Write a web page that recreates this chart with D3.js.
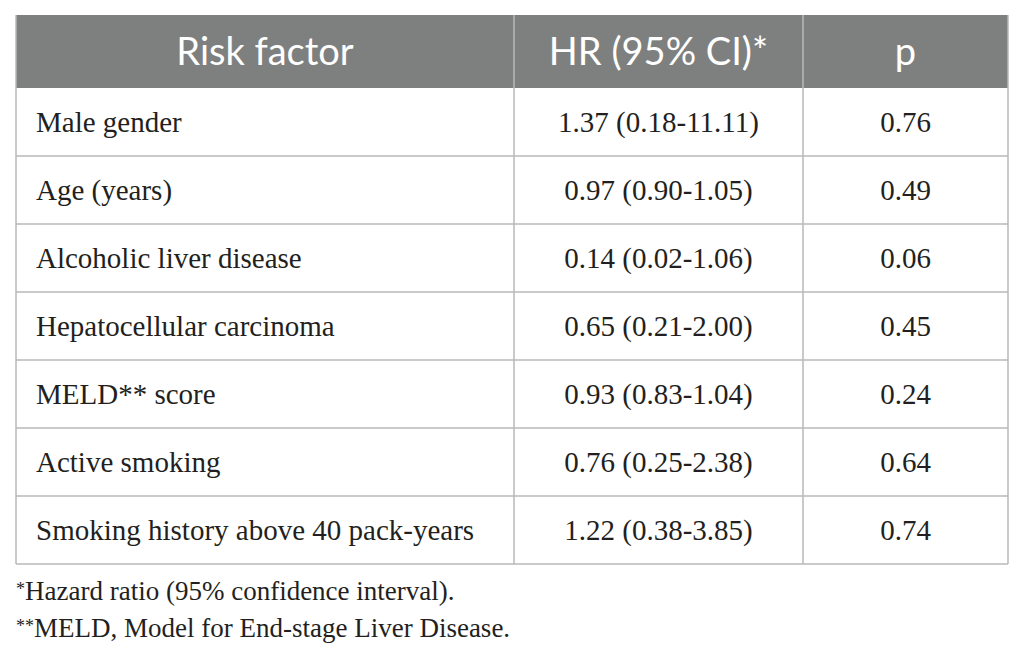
<!DOCTYPE html>
<html>
<head>
<meta charset="utf-8">
<script src="https://cdn.jsdelivr.net/npm/d3@7"></script>
<style>
  html, body { margin: 0; padding: 0; background: #fff; }
</style>
</head>
<body>
<div id="wrapper"></div>
<script>
const headers = ["Risk factor", "HR (95% CI)*", "p"]
const riskFactors = [
  "Male gender",
  "Age (years)",
  "Alcoholic liver disease",
  "Hepatocellular carcinoma",
  "MELD** score",
  "Active smoking",
  "Smoking history above 40 pack-years",
]
const hrCi = [
  "1.37 (0.18-11.11)",
  "0.97 (0.90-1.05)",
  "0.14 (0.02-1.06)",
  "0.65 (0.21-2.00)",
  "0.93 (0.83-1.04)",
  "0.76 (0.25-2.38)",
  "1.22 (0.38-3.85)",
]
const pValues = ["0.76", "0.49", "0.06", "0.45", "0.24", "0.64", "0.74"]
const footnotes = [
  ["*", "Hazard ratio (95% confidence interval)."],
  ["**", "MELD, Model for End-stage Liver Disease."],
]

function drawTable() {
  const dimensions = {
    width: 1025,
    height: 657,
    left: 16,
    right: 1008,
    top: 15,
    headerBottom: 88,
    bottom: 564,
  }
  const colEdges = [dimensions.left, 514, 803, dimensions.right]

  const rows = riskFactors.map((d, i) => ({ factor: d, hr: hrCi[i], p: pValues[i] }))

  const svg = d3.select("#wrapper")
    .append("svg")
      .attr("width", dimensions.width)
      .attr("height", dimensions.height)

  const yScale = d3.scaleBand()
    .domain(riskFactors)
    .range([dimensions.headerBottom, dimensions.bottom])

  const colScale = d3.scaleOrdinal()
    .domain(headers)
    .range(colEdges.slice(0, 3))
  const colWidth = (i) => colEdges[i + 1] - colEdges[i]

  // header
  svg.append("rect")
      .attr("x", dimensions.left)
      .attr("y", dimensions.top)
      .attr("width", dimensions.right - dimensions.left)
      .attr("height", dimensions.headerBottom - dimensions.top)
      .attr("fill", "#7e807f")

  svg.selectAll(".head")
    .data(headers)
    .enter().append("text")
      .attr("class", "head")
      .attr("x", (d, i) => colScale(d) + colWidth(i) / 2)
      .attr("y", 65)
      .attr("text-anchor", "middle")
      .attr("fill", "#fff")
      .style("font-family", "Lato, 'Open Sans', sans-serif")
      .style("font-size", "38px")
      .text(d => d)

  // body text
  const serif = "'Liberation Serif', 'Times New Roman', serif"
  const bodySize = "29px"
  const rowText = (d) => yScale(d.factor) + yScale.bandwidth() / 2 + 9.5

  svg.selectAll(".factor")
    .data(rows)
    .enter().append("text")
      .attr("x", colEdges[0] + 20)
      .attr("y", rowText)
      .attr("fill", "#231f20")
      .style("font-family", serif)
      .style("font-size", bodySize)
      .text(d => d.factor)

  svg.selectAll(".hr")
    .data(rows)
    .enter().append("text")
      .attr("x", colScale(headers[1]) + colWidth(1) / 2)
      .attr("y", rowText)
      .attr("text-anchor", "middle")
      .attr("fill", "#231f20")
      .style("font-family", serif)
      .style("font-size", bodySize)
      .text(d => d.hr)

  svg.selectAll(".pv")
    .data(rows)
    .enter().append("text")
      .attr("x", colScale(headers[2]) + colWidth(2) / 2)
      .attr("y", rowText)
      .attr("text-anchor", "middle")
      .attr("fill", "#231f20")
      .style("font-family", serif)
      .style("font-size", bodySize)
      .text(d => d.p)

  // grid lines
  const lineColor = "#b9b9b9"
  svg.selectAll(".hline")
    .data(riskFactors)
    .enter().append("line")
      .attr("x1", dimensions.left)
      .attr("x2", dimensions.right)
      .attr("y1", d => yScale(d) + yScale.bandwidth())
      .attr("y2", d => yScale(d) + yScale.bandwidth())
      .attr("stroke", lineColor)
      .attr("stroke-width", 1.5)

  svg.selectAll(".vline")
    .data(colEdges)
    .enter().append("line")
      .attr("x1", d => d)
      .attr("x2", d => d)
      .attr("y1", dimensions.top)
      .attr("y2", dimensions.bottom)
      .attr("stroke", lineColor)
      .attr("stroke-width", 1.5)

  // footnotes
  const notes = svg.selectAll(".note")
    .data(footnotes)
    .enter().append("text")
      .attr("x", dimensions.left)
      .attr("y", (d, i) => 600 + i * 37)
      .attr("fill", "#231f20")
      .style("font-family", serif)
      .style("font-size", "27px")

  notes.append("tspan")
      .attr("dy", -5)
      .style("font-size", "18px")
      .text(d => d[0])
  notes.append("tspan")
      .attr("dy", 5)
      .text(d => d[1])
}
drawTable()
</script>
</body>
</html>
